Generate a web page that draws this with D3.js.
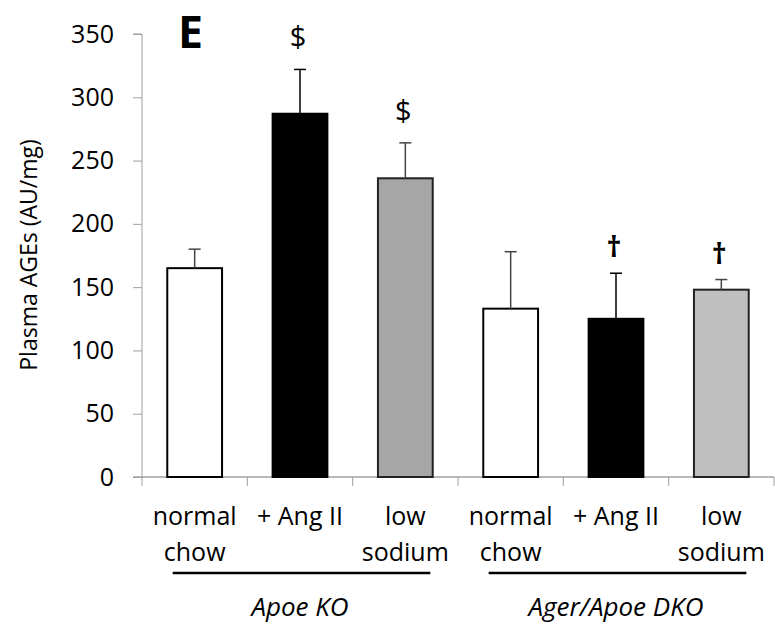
<!DOCTYPE html>
<html><head><meta charset="utf-8">
<script src="https://cdn.jsdelivr.net/npm/d3@7"></script>
<style>body{margin:0;background:#fff}svg{display:block}text{font-family:"Open Sans",sans-serif}</style>
</head><body>
<svg id="c" width="775" height="635"></svg>
<script>
const categories = ["normal chow", "+ Ang II", "low sodium", "normal chow", "+ Ang II", "low sodium"];
const labelLines = [["normal","chow"],["+ Ang II"],["low","sodium"],["normal","chow"],["+ Ang II"],["low","sodium"]];
const values = [165, 287, 236, 133, 125, 148];
const errors = [15, 35, 28, 45, 36, 8];
const marks = ["", "$", "$", "", "†", "†"];
const fills = ["#ffffff", "#000000", "#a6a6a6", "#ffffff", "#000000", "#bfbfbf"];
const groups = [{name:"Apoe KO", from:0, to:2}, {name:"Ager/Apoe DKO", from:3, to:5}];
const yTicks = [0, 50, 100, 150, 200, 250, 300, 350];

const svg = d3.select("#c");
const x = d3.scaleBand().domain(d3.range(categories.length)).range([142, 774]).paddingInner(0.48).paddingOuter(0.24);
const y = d3.scaleLinear().domain([0, 350]).range([477, 34]);
const axisColor = "#a0a0a0";

// y axis
const ya = svg.append("g").attr("transform","translate(142,0)")
  .call(d3.axisLeft(y).tickValues(yTicks).tickSize(9).tickPadding(19));
ya.select(".domain").attr("stroke", axisColor).attr("d", `M-9,${y(350)}H0V${y(0)}`);
ya.selectAll(".tick line").attr("stroke", axisColor);
ya.selectAll(".tick text").attr("font-size", 25).attr("fill","#000").attr("font-family","'Open Sans',sans-serif");

// x axis
const xb = d3.scaleLinear().domain([0, categories.length]).range([142, 774]);
svg.append("line").attr("x1",133).attr("x2",774).attr("y1",y(0)).attr("y2",y(0)).attr("stroke",axisColor).attr("stroke-width",1.3);
svg.selectAll(".xt").data(d3.range(categories.length+1)).join("line")
  .attr("x1",d=>xb(d)).attr("x2",d=>xb(d)).attr("y1",y(0)).attr("y2",y(0)+9).attr("stroke",axisColor);

// bars
svg.selectAll(".bar").data(values).join("rect")
  .attr("x",(d,i)=>x(i)).attr("width",x.bandwidth())
  .attr("y",d=>y(d)).attr("height",d=>y(0)-y(d))
  .attr("fill",(d,i)=>fills[i])
  .attr("stroke",(d,i)=>fills[i]==="#ffffff"||fills[i]==="#000000"?"#000":"#222")
  .attr("stroke-width",2);

// error bars
const eb = svg.selectAll(".eb").data(values).join("g");
const ec = i => (i===1||i===4) ? "#000" : "#444";
eb.append("line").attr("x1",(d,i)=>x(i)+x.bandwidth()/2).attr("x2",(d,i)=>x(i)+x.bandwidth()/2)
  .attr("y1",d=>y(d)).attr("y2",(d,i)=>y(d+errors[i])).attr("stroke",(d,i)=>ec(i)).attr("stroke-width",1.5);
eb.append("line").attr("x1",(d,i)=>x(i)+x.bandwidth()/2-6).attr("x2",(d,i)=>x(i)+x.bandwidth()/2+6)
  .attr("y1",(d,i)=>y(d+errors[i])).attr("y2",(d,i)=>y(d+errors[i])).attr("stroke",(d,i)=>ec(i)).attr("stroke-width",1.5);

// significance marks
svg.selectAll(".mk").data(values).join("text")
  .attr("x",(d,i)=>x(i)+x.bandwidth()/2-2)
  .attr("y",(d,i)=>y(d+errors[i]) - (marks[i]==="$"?22:16))
  .attr("text-anchor","middle").attr("font-size",29).attr("font-weight",(d,i)=>marks[i]==="†"?"bold":"normal")
  .text((d,i)=>marks[i]);

// category labels
labelLines.forEach((lines,i)=>{
  lines.forEach((t,j)=>{
    svg.append("text").attr("x",x(i)+x.bandwidth()/2).attr("y",525+j*36)
      .attr("text-anchor","middle").attr("font-size",25).text(t);
  });
});

// group lines and names
groups.forEach(g=>{
  const x1 = x(g.from)+x.bandwidth()/2-22, x2 = x(g.to)+x.bandwidth()/2+25;
  svg.append("line").attr("x1",x1).attr("x2",x2).attr("y1",573).attr("y2",573).attr("stroke","#000").attr("stroke-width",2.5);
  svg.append("text").attr("x",(x(g.from)+x(g.to)+x.bandwidth())/2).attr("y",616)
    .attr("text-anchor","middle").attr("font-size",26).attr("font-style","italic").text(g.name);
});

// y label
svg.append("text").attr("transform","translate(37,255) rotate(-90)").attr("text-anchor","middle")
  .attr("font-size",23).text("Plasma AGEs (AU/mg)");

// panel letter
svg.append("text").attr("x",178).attr("y",48).attr("textLength",25).attr("lengthAdjust","spacingAndGlyphs")
  .attr("font-family","'Liberation Sans',Arial,sans-serif").attr("font-size",45).attr("font-weight","bold").text("E");
</script>
</body></html>
